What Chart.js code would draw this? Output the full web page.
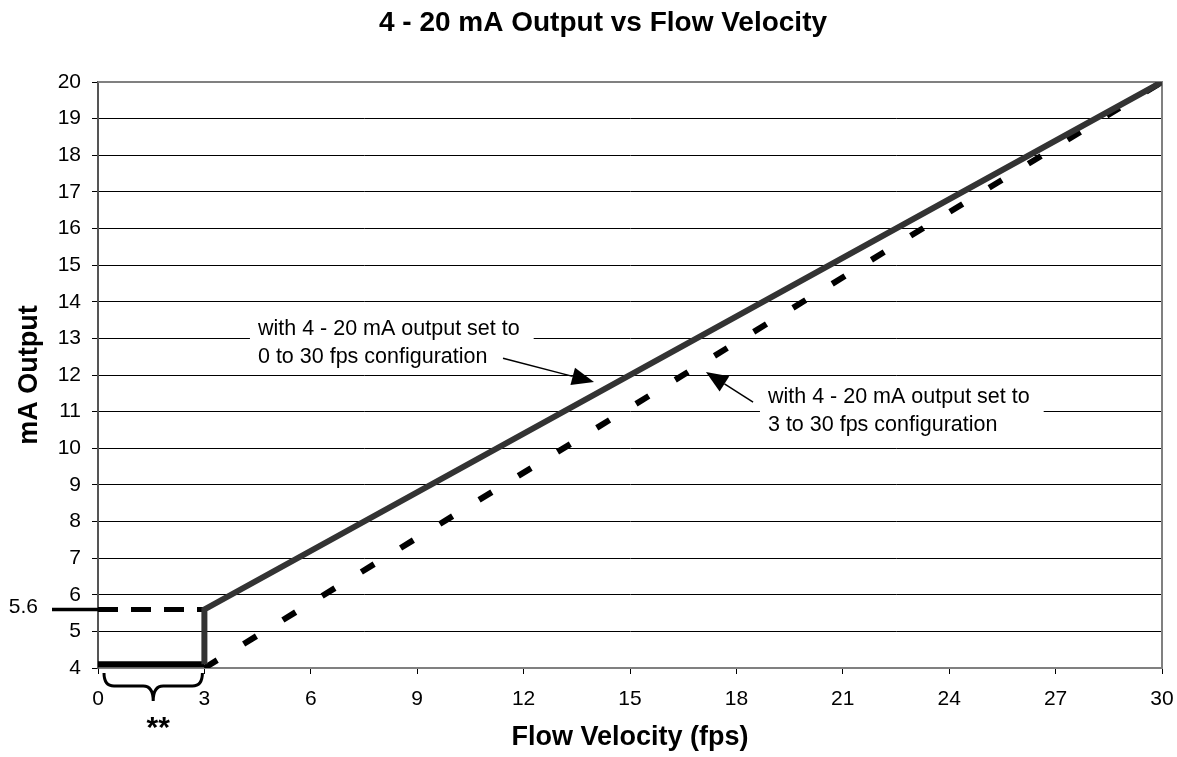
<!DOCTYPE html>
<html>
<head>
<meta charset="utf-8">
<title>4 - 20 mA Output vs Flow Velocity</title>
<script src="https://cdn.jsdelivr.net/npm/chart.js@4/dist/chart.umd.min.js"></script>
<style>
  html, body { margin: 0; padding: 0; background: #fff; }
</style>
</head>
<body>
<canvas id="maChart" width="1177" height="757"></canvas>
<script>
// 0 to 30 fps configuration: held at 4 mA below the 3 fps cutoff, then jumps to 5.6
const vel0to30 = [0, 3, 3, 30];
const mA0to30 = [4.1, 4.1, 5.6, 20];

// dashed 5.6 mA reference level under the cutoff
const velCutoff = [0, 3];
const mACutoff = [5.6, 5.6];

// 3 to 30 fps configuration
const vel3to30 = [3, 30];
const mA3to30 = [4, 20];

const xTicks = [0, 3, 6, 9, 12, 15, 18, 21, 24, 27, 30];
const yTicks = [4, 5, 6, 7, 8, 9, 10, 11, 12, 13, 14, 15, 16, 17, 18, 19, 20];

// callout text, anchored in data units (fps, mA)
const noteLines1 = ['with 4 - 20 mA output set to', '0 to 30 fps configuration'];
const noteLines2 = ['with 4 - 20 mA output set to', '3 to 30 fps configuration'];
const noteAt1 = [4.51, 13.09];
const noteAt2 = [18.89, 11.235];
const arrow1 = [[11.42, 12.46], [13.985, 11.81]];
const arrow2 = [[18.47, 11.26], [17.14, 12.08]];
const refLevel = 5.6;

const FONT = '"Liberation Sans", Arial, sans-serif';
Chart.defaults.font.family = FONT;
Chart.defaults.color = '#000';

function pts(xs, ys) {
  return xs.map((x, i) => ({ x: x, y: ys[i] }));
}

function drawArrow(ctx, x0, y0, x1, y1) {
  const ang = Math.atan2(y1 - y0, x1 - x0);
  const len = 22, half = 9;
  const bx = x1 - len * Math.cos(ang), by = y1 - len * Math.sin(ang);
  ctx.strokeStyle = '#000';
  ctx.fillStyle = '#000';
  ctx.lineWidth = 1.5;
  ctx.beginPath();
  ctx.moveTo(x0, y0);
  ctx.lineTo(bx, by);
  ctx.stroke();
  ctx.beginPath();
  ctx.moveTo(x1, y1);
  ctx.lineTo(bx + half * Math.sin(ang), by - half * Math.cos(ang));
  ctx.lineTo(bx - half * Math.sin(ang), by + half * Math.cos(ang));
  ctx.closePath();
  ctx.fill();
}

const extras = {
  id: 'extras',
  beforeDatasetsDraw(chart) {
    const { ctx, chartArea: a, scales: { x, y } } = chart;
    ctx.save();
    // frame top and right
    ctx.strokeStyle = '#808080';
    ctx.lineWidth = 2;
    ctx.beginPath();
    ctx.moveTo(a.left, a.top);
    ctx.lineTo(a.right, a.top);
    ctx.lineTo(a.right, a.bottom);
    ctx.stroke();

    // callout boxes + text
    ctx.font = '21.5px ' + FONT;
    ctx.textBaseline = 'alphabetic';
    ctx.textAlign = 'left';
    [[noteLines1, noteAt1], [noteLines2, noteAt2]].forEach(([lines, at]) => {
      const tx = x.getPixelForValue(at[0]);
      const ty = y.getPixelForValue(at[1]);
      const w = Math.max(...lines.map(l => ctx.measureText(l).width));
      ctx.fillStyle = '#fff';
      ctx.fillRect(tx - 8, ty - 22, w + 22, 27.5 * (lines.length - 1) + 30);
      ctx.fillStyle = '#000';
      lines.forEach((l, i) => ctx.fillText(l, tx, ty + i * 27.5));
    });
    ctx.restore();
  },
  afterDatasetsDraw(chart) {
    const { ctx, scales: { x, y } } = chart;
    ctx.save();
    [arrow1, arrow2].forEach(([p, q]) => {
      drawArrow(ctx, x.getPixelForValue(p[0]), y.getPixelForValue(p[1]),
        x.getPixelForValue(q[0]), y.getPixelForValue(q[1]));
    });
    ctx.restore();
  },
  afterDraw(chart) {
    const { ctx, chartArea: a, scales: { x, y } } = chart;
    ctx.save();
    // 5.6 mA marker left of the axis
    const yr = y.getPixelForValue(refLevel);
    ctx.strokeStyle = '#000';
    ctx.lineWidth = 3.5;
    ctx.beginPath();
    ctx.moveTo(a.left - 46, yr);
    ctx.lineTo(a.left, yr);
    ctx.stroke();
    ctx.fillStyle = '#000';
    ctx.font = '21px ' + FONT;
    ctx.textAlign = 'right';
    ctx.textBaseline = 'middle';
    ctx.fillText(String(refLevel), a.left - 60, yr - 2);

    // brace under 0..3 fps
    const bl = x.getPixelForValue(0) + 6, br = x.getPixelForValue(3) - 2;
    const mid = (bl + br) / 2;
    const t = a.bottom + 5, h = a.bottom + 18, tip = a.bottom + 33;
    ctx.lineWidth = 3;
    ctx.beginPath();
    ctx.moveTo(bl, t);
    ctx.quadraticCurveTo(bl, h, bl + 10, h);
    ctx.lineTo(mid - 10, h);
    ctx.quadraticCurveTo(mid, h, mid, tip);
    ctx.quadraticCurveTo(mid, h, mid + 10, h);
    ctx.lineTo(br - 10, h);
    ctx.quadraticCurveTo(br, h, br, t);
    ctx.stroke();
    ctx.font = 'bold 30px ' + FONT;
    ctx.textAlign = 'center';
    ctx.textBaseline = 'alphabetic';
    ctx.fillText('**', mid + 5, a.bottom + 69);
    ctx.restore();
  }
};

new Chart(document.getElementById('maChart'), {
  type: 'scatter',
  data: {
    datasets: [
      {
        label: '0 to 30 fps configuration',
        data: pts(vel0to30, mA0to30),
        showLine: true,
        borderColor: '#333333',
        borderWidth: 6,
        borderJoinStyle: 'miter',
        pointRadius: 0,
        segment: { borderColor: c => c.p0DataIndex === 0 ? '#000' : '#333333' },
        order: 0
      },
      {
        label: '5.6 mA level',
        data: pts(velCutoff, mACutoff),
        showLine: true,
        borderColor: '#000',
        borderWidth: 5,
        borderDash: [20, 13],
        pointRadius: 0,
        order: 1
      },
      {
        label: '3 to 30 fps configuration',
        data: pts(vel3to30, mA3to30),
        showLine: true,
        borderColor: '#000',
        borderWidth: 6,
        borderDash: [15, 31],
        pointRadius: 0,
        order: 2
      }
    ]
  },
  options: {
    responsive: false,
    animation: false,
    devicePixelRatio: 1,
    layout: { padding: { left: 44, right: 15, top: 0, bottom: 0 } },
    plugins: {
      legend: { display: false },
      tooltip: { enabled: false },
      title: {
        display: true,
        text: '4 - 20 mA Output vs Flow Velocity',
        color: '#000',
        font: { size: 28, weight: 'bold' },
        padding: { top: 6, bottom: 42.4 }
      }
    },
    scales: {
      x: {
        type: 'linear',
        min: 0,
        max: 30,
        afterBuildTicks: s => { s.ticks = xTicks.map(v => ({ value: v })); },
        afterFit: s => { s.height = 89; s.paddingRight = 0; s.paddingLeft = 0; },
        ticks: { font: { size: 21 }, color: '#000', padding: 13, maxRotation: 0, autoSkip: false },
        grid: { drawOnChartArea: false, drawTicks: true, tickLength: 6, tickColor: '#000' },
        border: { color: '#808080', width: 2 },
        title: {
          display: true,
          text: 'Flow Velocity (fps)',
          color: '#000',
          font: { size: 27, weight: 'bold' },
          padding: { top: 0, bottom: 3 }
        }
      },
      y: {
        type: 'linear',
        min: 4,
        max: 20,
        afterBuildTicks: s => { s.ticks = yTicks.map(v => ({ value: v })); },
        afterFit: s => { s.width = 54; },
        ticks: { font: { size: 21 }, color: '#000', padding: 11 },
        grid: {
          color: c => (c.tick && (c.tick.value === 4 || c.tick.value === 20)) ? 'rgba(0,0,0,0)' : '#000',
          tickColor: '#000',
          tickLength: 6,
          lineWidth: 1
        },
        border: { color: '#555555', width: 2 },
        title: {
          display: true,
          text: 'mA Output',
          color: '#000',
          font: { size: 27, weight: 'bold' },
          padding: { top: -31, bottom: 0 }
        }
      }
    }
  },
  plugins: [extras]
});
</script>
</body>
</html>
